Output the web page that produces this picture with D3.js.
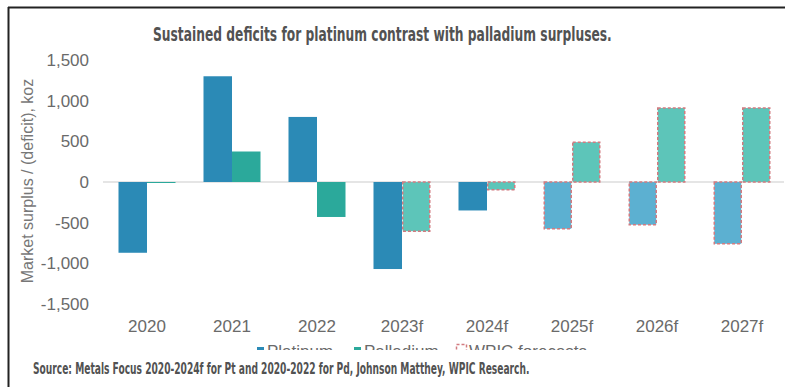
<!DOCTYPE html>
<html>
<head>
<meta charset="utf-8">
<script src="https://cdn.jsdelivr.net/npm/d3@7"></script>
<style>
  body { margin: 0; background: #fff; }
  svg { display: block; }
  .tick text { fill: #6a6a6a; font-family: Arial, "Liberation Sans", sans-serif; font-size: 17px; }
  .cond { font-family: "Liberation Sans Narrow", "DejaVu Sans Condensed", "Roboto Condensed", sans-serif; font-weight: bold; fill: #525252; }
</style>
</head>
<body>
<div class="visiHolder"></div>
<script>
const years = ["2020", "2021", "2022", "2023f", "2024f", "2025f", "2026f", "2027f"];
const platinum = [-870, 1300, 800, -1070, -350, -575, -525, -760];
const palladium = [-10, 375, -430, -605, -95, 490, 910, 910];
const platinumForecast = [false, false, false, false, false, true, true, true];
const palladiumForecast = [false, false, false, true, true, true, true, true];
const yTicks = [-1500, -1000, -500, 0, 500, 1000, 1500];
const seriesNames = ["Platinum", "Palladium"];

const width = 785;
const height = 387;

const colors = {
  Platinum: { solid: "#2b8ab6", forecast: "#5cb0d1" },
  Palladium: { solid: "#2ba99b", forecast: "#5dc5b9" }
};
const dashColor = "#d27b80";

const svg = d3
  .select(".visiHolder")
  .append("svg")
  .attr("width", width)
  .attr("height", height);

// squeeze a text horizontally to a given width (condensed look)
function fitText(sel, x, y, w) {
  const natural = sel.node().getComputedTextLength();
  sel.attr("transform", `translate(${x}, ${y}) scale(${w / natural}, 1)`);
}

// frame (top + left only)
svg.append("line").attr("x1", 8).attr("x2", width).attr("y1", 7.5).attr("y2", 7.5)
  .attr("stroke", "#222").attr("stroke-width", 2);
svg.append("line").attr("x1", 8.5).attr("x2", 8.5).attr("y1", 7).attr("y2", height)
  .attr("stroke", "#222").attr("stroke-width", 2);

const title = svg.append("text")
  .attr("class", "cond")
  .attr("font-size", 20)
  .text("Sustained deficits for platinum contrast with palladium surpluses.");
fitText(title, 153, 41, 459);

const x0 = d3.scaleBand()
  .domain(years)
  .range([104.5, 784.5])
  .paddingInner(28 / 85)
  .paddingOuter(14 / 85);

const x1 = d3.scaleBand()
  .domain(seriesNames)
  .range([0, x0.bandwidth()]);

const yScale = d3.scaleLinear()
  .domain([-1500, 1500])
  .range([304, 60]);

// zero line
svg.append("line")
  .attr("x1", 103).attr("x2", 784)
  .attr("y1", yScale(0)).attr("y2", yScale(0))
  .attr("stroke", "#dcdcdc").attr("stroke-width", 1.5);

const rows = years.map((year, i) => [
  { year, series: "Platinum", value: platinum[i], forecast: platinumForecast[i] },
  { year, series: "Palladium", value: palladium[i], forecast: palladiumForecast[i] }
]).flat();

svg.append("g")
  .selectAll("rect")
  .data(rows)
  .enter()
  .append("rect")
  .attr("x", (d) => x0(d.year) + x1(d.series) + (d.forecast ? 0.75 : 0))
  .attr("y", (d) => yScale(Math.max(0, d.value)))
  .attr("width", (d) => x1.bandwidth() - (d.forecast ? 1.5 : 0))
  .attr("height", (d) => Math.max(1, Math.abs(yScale(d.value) - yScale(0))))
  .attr("fill", (d) => d.forecast ? colors[d.series].forecast : colors[d.series].solid)
  .attr("stroke", (d) => d.forecast ? dashColor : "none")
  .attr("stroke-width", 1.5)
  .attr("stroke-dasharray", "3,2");

const fmt = d3.format(",");
const yAxis = d3.axisLeft(yScale)
  .tickValues(yTicks)
  .tickSize(0)
  .tickPadding(3)
  .tickFormat((d) => fmt(d).replace("\u2212", "-"));

svg.append("g")
  .attr("id", "y-axis")
  .attr("transform", "translate(92, 0)")
  .call(yAxis)
  .call((g) => g.select(".domain").remove());

const xAxis = d3.axisBottom(x0).tickSize(0).tickPadding(8);
svg.append("g")
  .attr("id", "x-axis")
  .attr("transform", "translate(0, 312)")
  .call(xAxis)
  .call((g) => g.select(".domain").remove());

svg.append("text")
  .attr("transform", "translate(33, 181) rotate(-90)")
  .attr("text-anchor", "middle")
  .attr("font-family", "Arial, 'Liberation Sans', sans-serif")
  .attr("font-size", 16)
  .attr("fill", "#777")
  .text("Market surplus / (deficit), koz");

// legend, cut off by the source box below it
svg.append("clipPath").attr("id", "legend-clip")
  .append("rect").attr("x", 0).attr("y", 0).attr("width", width).attr("height", 350);

const legend = svg.append("g")
  .attr("clip-path", "url(#legend-clip)")
  .attr("font-family", "Arial, 'Liberation Sans', sans-serif")
  .attr("font-size", 17).attr("fill", "#6a6a6a");
legend.append("rect").attr("x", 257).attr("y", 347).attr("width", 7).attr("height", 7)
  .attr("fill", colors.Platinum.solid);
legend.append("text").attr("x", 267).attr("y", 357).text("Platinum");
legend.append("rect").attr("x", 354).attr("y", 347).attr("width", 7).attr("height", 7)
  .attr("fill", colors.Palladium.solid);
legend.append("text").attr("x", 364).attr("y", 357).text("Palladium");
legend.append("rect").attr("x", 456.5).attr("y", 344.5).attr("width", 10).attr("height", 10)
  .attr("fill", "#fff").attr("stroke", dashColor).attr("stroke-width", 1.5)
  .attr("stroke-dasharray", "3,2");
legend.append("text").attr("x", 469).attr("y", 357).text("WPIC forecasts");

const source = svg.append("text")
  .attr("class", "cond")
  .attr("font-size", 16)
  .text("Source: Metals Focus 2020-2024f for Pt and 2020-2022 for Pd, Johnson Matthey, WPIC Research.");
fitText(source, 33, 373.5, 497);
</script>
</body>
</html>
